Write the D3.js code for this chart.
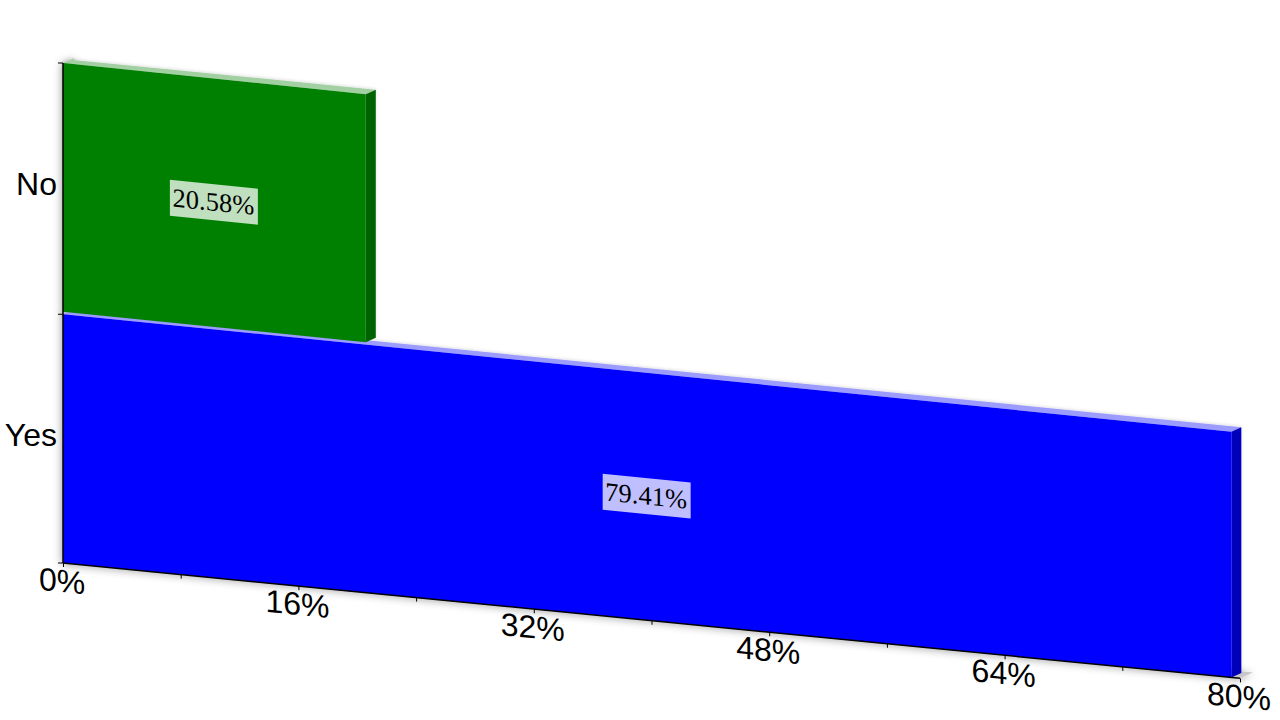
<!DOCTYPE html>
<html><head><meta charset="utf-8">
<script src="https://cdn.jsdelivr.net/npm/d3@7"></script>
<style>html,body{margin:0;padding:0;background:#fff}svg{display:block}</style>
</head><body><svg id="c" width="1280" height="720"></svg>
<script>
const categories = ["No", "Yes"];
const values = [20.58, 79.41];
const labels = ["20.58%", "79.41%"];
const axisTicks = [0, 8, 16, 24, 32, 40, 48, 56, 64, 72, 80];
const labelledTicks = [0, 16, 32, 48, 64, 80];
const fronts = ["#008000", "#0000ff"];
const sides = ["#006400", "#0000bb"];
const tops = ["#a3d0a3", "#9c9cff"];

const svg = d3.select("#c");
const x = d3.scaleLinear().domain([0, 80]).range([63, 1240]);
const y = d3.scaleBand().domain(categories).range([63, 563]).paddingInner(0.01);
const depth = {dx: 10, dy: -4.5};
const slopeAt = sy => 0.098 + (563 - sy) * 0.00001;
const P = (v, sy, d = 0) => {
  const px = x(v);
  return [px + d * depth.dx, sy + slopeAt(sy) * (px - x(0)) + d * depth.dy];
};
const poly = pts => d3.line()(pts) + "Z";
const skew = (sy, tx, ty) => `matrix(1,${slopeAt(sy)},0,1,${tx},${ty})`;

const defs = svg.append("defs");
const f1 = defs.append("filter").attr("id", "wallShadow").attr("x", "-5%").attr("y", "-5%").attr("width", "110%").attr("height", "110%");
f1.append("feDropShadow").attr("dx", -1).attr("dy", 1).attr("stdDeviation", 4).attr("flood-color", "#000").attr("flood-opacity", 0.4);
const f2 = defs.append("filter").attr("id", "barShadow").attr("x", "-5%").attr("y", "-5%").attr("width", "110%").attr("height", "110%");
f2.append("feDropShadow").attr("dx", 0).attr("dy", -1).attr("stdDeviation", 1.5).attr("flood-color", "#000").attr("flood-opacity", 0.12);

// wall and floor
const back = svg.append("g").attr("filter", "url(#wallShadow)");
const yTop = y.range()[0], yBase = y.range()[1];
back.append("path").attr("fill", "#c8c8c8")
  .attr("d", poly([P(0, yTop), P(0, yTop, 1.1), P(0, yBase, 1.1), P(0, yBase)]));
back.append("path").attr("fill", "#c8c8c8")
  .attr("d", poly([P(0, yBase), P(0, yBase, 1.1), P(80, yBase, 1.3), P(80, yBase)]));

// bars, back to front: Yes first so that No sits over its top face
const order = d3.range(categories.length).reverse();
const bars = svg.append("g").attr("filter", "url(#barShadow)");
order.forEach(i => {
  const t = y(categories[i]), b = t + y.bandwidth(), v = values[i];
  const topDepth = 0.75;
  const g = bars.append("g");
  g.append("path").attr("fill", tops[i]).attr("d", poly([P(0, t), P(v, t), P(v, t, 1), P(0, t, topDepth)]));
  g.append("path").attr("fill", sides[i]).attr("d", poly([P(v, t), P(v, t, 1), P(v, b, 1), P(v, b)]));
  g.append("path").attr("fill", fronts[i]).attr("d", poly([P(0, t), P(v, t), P(v, b), P(0, b)]));
});

// axes
const xLocal = d3.scaleLinear().domain([0, 80]).range([0, x(80) - x(0)]);
const xAxis = svg.append("g").attr("transform", skew(yBase, x(0), yBase))
  .call(d3.axisBottom(xLocal).tickValues(axisTicks).tickSize(4).tickPadding(2)
    .tickFormat(d => labelledTicks.includes(d) ? d + "%" : ""));
xAxis.select(".domain").attr("stroke", "#000").attr("stroke-width", 1.5).attr("d", `M0,0H${xLocal(80)}`);
xAxis.selectAll("text").attr("font-family", "'Liberation Sans'").attr("font-size", 32).attr("fill", "#000")
  .attr("dy", "0.72em").attr("dx", -1.5);

const yAxis = svg.append("g").attr("transform", `translate(${x(0)},0)`)
  .call(d3.axisLeft(y).tickSize(0).tickPadding(6));
yAxis.select(".domain").attr("stroke", "#000").attr("stroke-width", 1.5).attr("d", `M0,${yTop}V${yBase}`);
yAxis.selectAll("text").attr("font-family", "'Liberation Sans'").attr("font-size", 32).attr("fill", "#000")
  .attr("dy", "0.28em").attr("transform", `translate(0,-1.5)`);
[yTop, y("Yes"), yBase].forEach(sy => {
  yAxis.append("line").attr("x1", -5).attr("x2", 0).attr("y1", sy).attr("y2", sy).attr("stroke", "#000");
});

// value labels
categories.forEach((c, i) => {
  const sy = y(c) + y.bandwidth() / 2;
  const [cx, cy] = P(values[i] / 2, sy);
  const g = svg.append("g").attr("transform", skew(sy, cx, cy));
  g.append("rect").attr("x", -44.5).attr("y", -18.5).attr("width", 88).attr("height", 36).attr("fill", "#fff").attr("fill-opacity", 0.75);
  g.append("text").attr("x", -1).attr("text-anchor", "middle").attr("y", 8)
    .attr("font-family", "'Liberation Serif'").attr("font-size", 26.5).attr("fill", "#000").text(labels[i]);
});
</script></body></html>
